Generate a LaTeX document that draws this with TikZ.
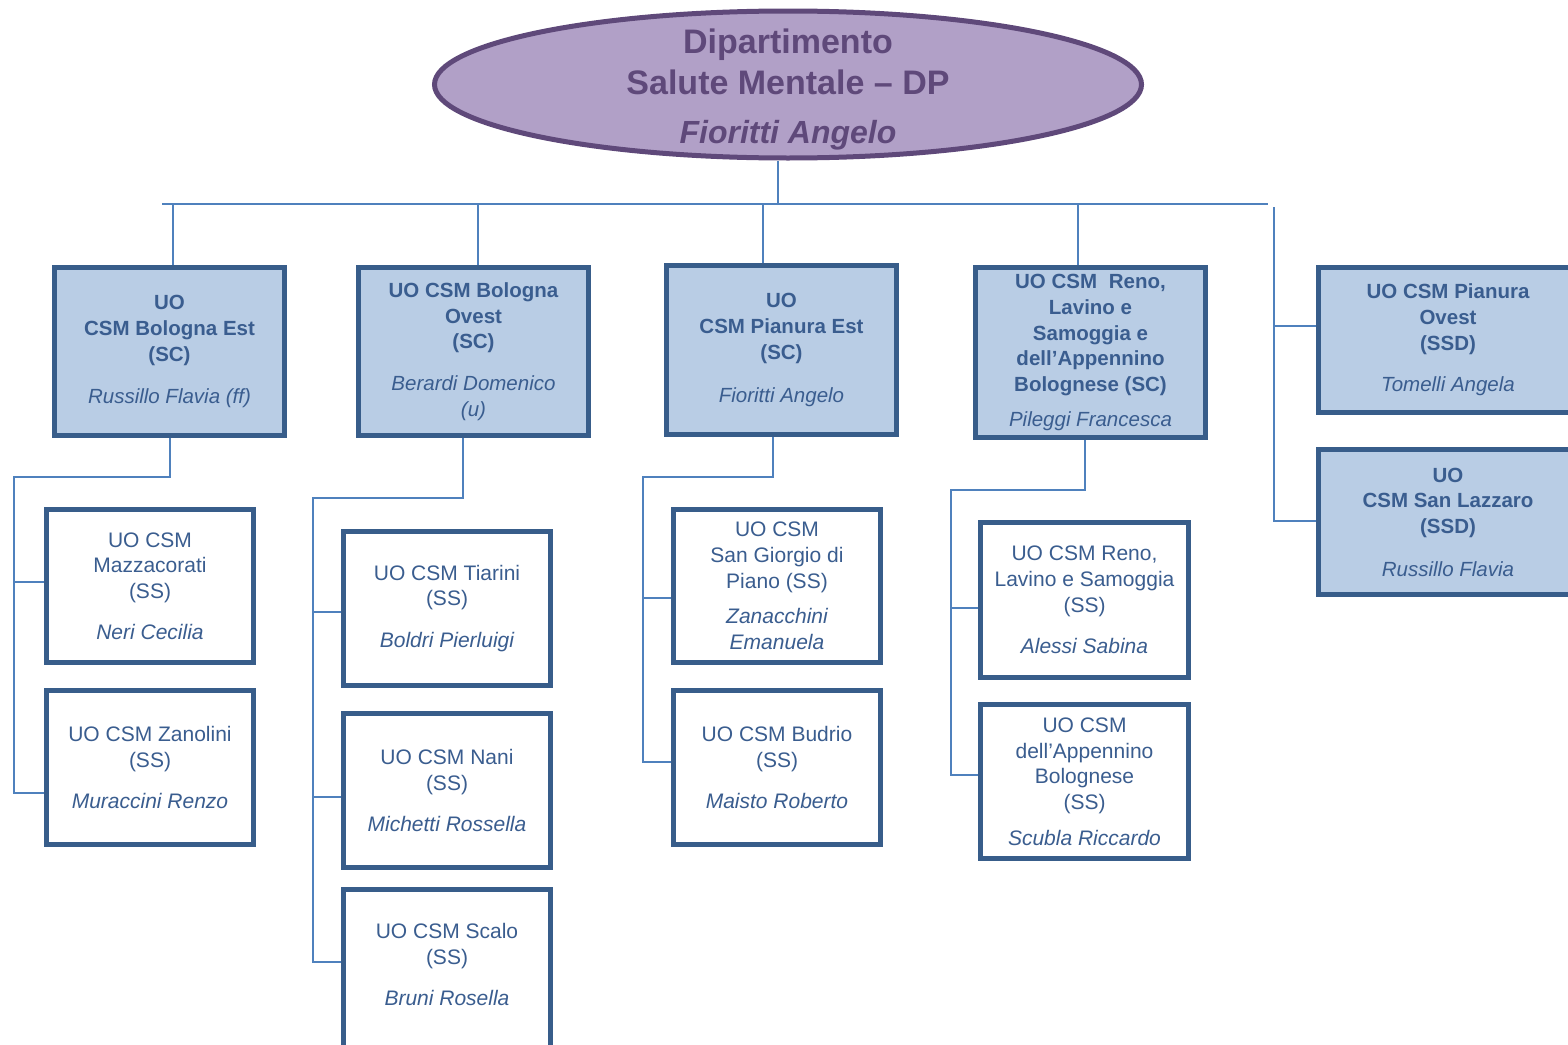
\documentclass[tikz,border=0pt]{standalone}
\usepackage{fontspec}
\setmainfont{Liberation Sans}
\usetikzlibrary{shapes.geometric}
\definecolor{bord}{HTML}{385D8A}
\definecolor{fillb}{HTML}{B9CDE5}
\definecolor{txt}{HTML}{3A5D8F}
\definecolor{connc}{HTML}{4F81BD}
\definecolor{ellf}{HTML}{B1A0C7}
\definecolor{elld}{HTML}{5F497A}
\pgfdeclarelayer{bg}\pgfsetlayers{bg,main}
\newcommand\pname[1]{{\mdseries\itshape #1}}
\begin{document}
\begin{tikzpicture}[x=1pt,y=-1pt,
 topbox/.style={draw=bord, line width=5pt, fill=fillb, text=txt, align=center, inner sep=0pt,
   minimum width=230pt, minimum height=168pt, font=\fontsize{20.5}{25.7}\selectfont\bfseries},
 sidebox/.style={topbox, minimum width=259pt, minimum height=145pt},
 subbox/.style={draw=bord, line width=5pt, fill=white, text=txt, align=center, inner sep=0pt,
   minimum width=207pt, minimum height=154pt, font=\fontsize{21}{25.7}\selectfont},
 subtext/.style={text=txt, align=center, inner sep=0pt, font=\fontsize{21}{25.7}\selectfont},
 link/.style={draw=connc, line width=2pt}]
\useasboundingbox (0,0) rectangle (1568,1044);

% ellipse
\node[ellipse, draw=elld, line width=5pt, fill=ellf, minimum width=707pt, minimum height=147pt, inner sep=0pt] (ell) at (788,84.5) {};
\node[text=elld, align=center, inner sep=0pt, font=\fontsize{34}{41}\selectfont\bfseries] (ellt) at (788,89)
  {Dipartimento\\Salute Mentale – DP\\[8pt]{\fontsize{32}{41}\selectfont\itshape Fioritti Angelo}};

% top boxes
\node[topbox] (B1) at (169.5,351.5) {UO\\CSM Bologna Est\\(SC)\\[16pt]\pname{Russillo Flavia (ff)}};
\node[topbox] (B2) at (473.5,351.5) {UO CSM Bologna\\Ovest\\(SC)\\[16pt]\pname{Berardi Domenico}\\\pname{(u)}};
\node[topbox, minimum height=169pt] (B3) at (781.5,350) {UO\\CSM Pianura Est\\(SC)\\[17pt]\pname{Fioritti Angelo}};
\node[topbox, minimum height=170pt] (B4) at (1090.5,352.5) {UO CSM\hspace{.3em} Reno,\\Lavino e\\Samoggia e\\dell’Appennino\\Bolognese (SC)\\[9pt]\pname{Pileggi Francesca}};
\node[sidebox] (B5) at (1448,340) {UO CSM Pianura\\Ovest\\(SSD)\\[16pt]\pname{Tomelli Angela}};
\node[sidebox] (B6) at (1448,522) {UO\\CSM San Lazzaro\\(SSD)\\[17pt]\pname{Russillo Flavia}};

% sub boxes
\node[subbox, minimum height=153pt] (S1a) at (150,586) {UO CSM\\Mazzacorati\\(SS)\\[15pt]\pname{Neri Cecilia}};
\node[subbox] (S1b) at (150,767.5) {UO CSM Zanolini\\(SS)\\[15pt]\pname{Muraccini Renzo}};
\node[subbox] (S2a) at (447,608.5) {UO CSM Tiarini\\(SS)\\[16pt]\pname{Boldri Pierluigi}};
\node[subbox] (S2b) at (447,790.5) {UO CSM Nani\\(SS)\\[16pt]\pname{Michetti Rossella}};
\node[subbox, minimum height=175pt] (S2c) at (447,977) {};
\node[subtext] (S2ct) at (447,964.5) {UO CSM Scalo\\(SS)\\[15pt]\pname{Bruni Rosella}};
\node[subbox, minimum height=153pt] (S3a) at (777,586) {UO CSM\\San Giorgio di\\Piano (SS)\\[10pt]\pname{Zanacchini}\\\pname{Emanuela}};
\node[subbox] (S3b) at (777,767.5) {UO CSM Budrio\\(SS)\\[15pt]\pname{Maisto Roberto}};
\node[subbox, minimum width=208pt, minimum height=155pt] (S4a) at (1084.5,600) {UO CSM Reno,\\Lavino e Samoggia\\(SS)\\[16pt]\pname{Alessi Sabina}};
\node[subbox, minimum width=208pt] (S4b) at (1084.5,781.5) {UO CSM\\dell’Appennino\\Bolognese\\(SS)\\[10pt]\pname{Scubla Riccardo}};

\begin{pgfonlayer}{bg}
% bus
\coordinate (busL) at (162,204); \coordinate (busR) at (1268,204);
\draw[link] (busL) -- (busR);
\coordinate (d0) at (778,205);
\draw[link] (d0) -- (d0 |- ell.south);
\coordinate (d1) at (173,204); \draw[link] (d1) -- (d1 |- B1.north);
\coordinate (d2) at (478,204); \draw[link] (d2) -- (d2 |- B2.north);
\coordinate (d3) at (763,204); \draw[link] (d3) -- (d3 |- B3.north);
\coordinate (d4) at (1078,204); \draw[link] (d4) -- (d4 |- B4.north);
% right side
\coordinate (r0) at (1274,207); \coordinate (r5) at (1274,326); \coordinate (r6) at (1274,521);
\draw[link] (r0) -- (r6) -- (r6 -| B6.west);
\draw[link] (r5) -- (r5 -| B5.west);
% column 1
\coordinate (k1) at (14,477); \coordinate (k1a) at (14,582); \coordinate (k1b) at (14,793);
\draw[link] (B1.south) |- (k1) -- (k1b) -- (k1b -| S1b.west);
\draw[link] (k1a) -- (k1a -| S1a.west);
% column 2
\coordinate (j2) at (463,498); \coordinate (k2) at (313,498);
\coordinate (k2a) at (313,612); \coordinate (k2b) at (313,797); \coordinate (k2c) at (313,962);
\draw[link] (j2 |- B2.south) -- (j2) -- (k2) -- (k2c) -- (k2c -| S2c.west);
\draw[link] (k2a) -- (k2a -| S2a.west);
\draw[link] (k2b) -- (k2b -| S2b.west);
% column 3
\coordinate (j3) at (773,477); \coordinate (k3) at (643,477);
\coordinate (k3a) at (643,598); \coordinate (k3b) at (643,762);
\draw[link] (j3 |- B3.south) -- (j3) -- (k3) -- (k3b) -- (k3b -| S3b.west);
\draw[link] (k3a) -- (k3a -| S3a.west);
% column 4
\coordinate (j4) at (1085,490); \coordinate (k4) at (951,490);
\coordinate (k4a) at (951,608); \coordinate (k4b) at (951,775);
\draw[link] (j4 |- B4.south) -- (j4) -- (k4) -- (k4b) -- (k4b -| S4b.west);
\draw[link] (k4a) -- (k4a -| S4a.west);
\end{pgfonlayer}
\end{tikzpicture}
\end{document}
